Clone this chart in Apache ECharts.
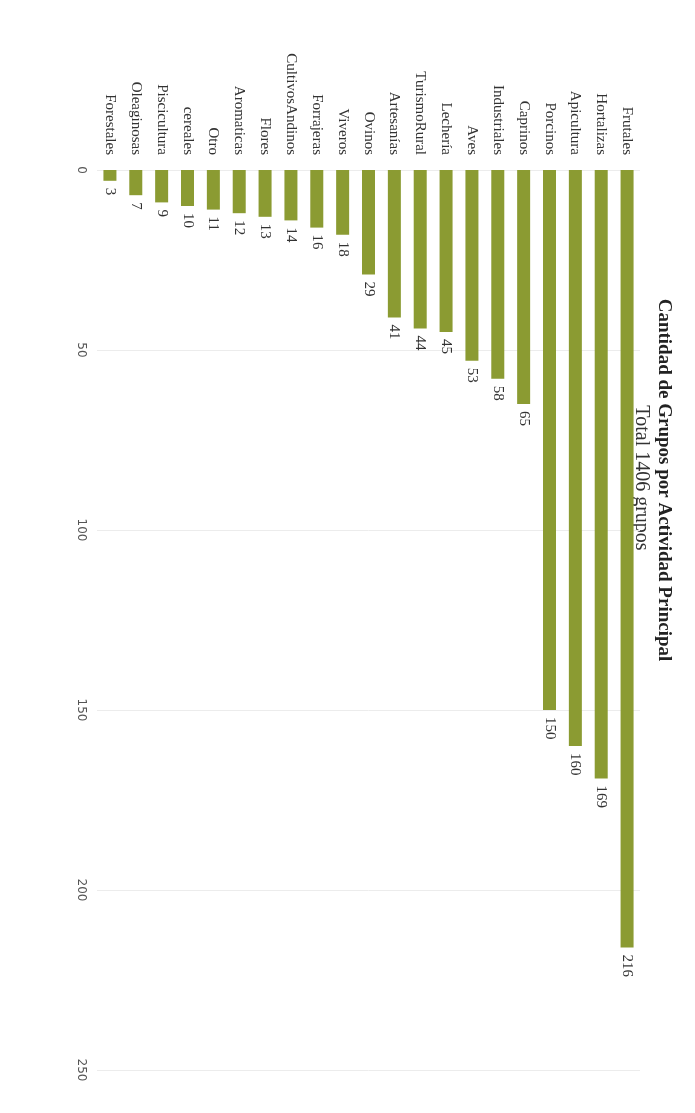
<!DOCTYPE html>
<html>
<head>
<meta charset="utf-8">
<script src="https://cdn.jsdelivr.net/npm/echarts@6/dist/echarts.min.js"></script>
<style>
html,body{margin:0;padding:0;background:#fff;}
#chart{width:695px;height:1113px;}
</style>
</head>
<body>
<div id="chart"></div>
<script>
// Categories from left (bottom of original chart) to right (top)
const categories = ["Forestales","Oleaginosas","Piscicultura","cereales","Otro","Aromaticas","Flores","CultivosAndinos","Forrajeras","Viveros","Ovinos","Artesanías","TurismoRural","Lechería","Aves","Industriales","Caprinos","Porcinos","Apicultura","Hortalizas","Frutales"];
const values = [3,7,9,10,11,12,13,14,16,18,29,41,44,45,53,58,65,150,160,169,216];
const valueTicks = [0,50,100,150,200,250];
const titleText = "Cantidad de Grupos por Actividad Principal";
const subtitleText = "Total 1406 grupos";

const chart = echarts.init(document.getElementById('chart'));
chart.setOption({
  animation: false,
  backgroundColor: '#ffffff',
  grid: {left: 97, right: 55, top: 170, bottom: 43, containLabel: false},
  graphic: [
    {type:'text', x: 664, y: 480, rotation: -Math.PI/2,
     style:{text: titleText, fontFamily:'Liberation Serif', fontSize: 19, fontWeight:'bold', fill:'#222', align:'center', verticalAlign:'middle'}},
    {type:'text', x: 641, y: 478, rotation: -Math.PI/2,
     style:{text: subtitleText, fontFamily:'Liberation Serif', fontSize: 20, fill:'#333', align:'center', verticalAlign:'middle'}}
  ],
  xAxis: {
    type: 'category', position: 'top', data: categories,
    axisLine: {show:false}, axisTick: {show:false},
    axisLabel: {rotate: -90, interval: 0, margin: 15, fontFamily:'Liberation Serif', fontSize: 15, color:'#333'}
  },
  yAxis: {
    type: 'value', inverse: true, min: valueTicks[0], max: valueTicks[valueTicks.length-1], interval: 50,
    axisLine: {show:false}, axisTick: {show:false},
    splitLine: {show:true, lineStyle:{color:'#ececec', width:1}},
    axisLabel: {rotate: -90, margin: 10, fontFamily:'DejaVu Sans', fontSize: 12, color:'#555'}
  },
  series: [{
    type: 'bar', data: values, barWidth: 13,
    itemStyle: {color: '#8b9b32'},
    label: {show: true, position: 'bottom', rotate: -90, align: 'left', verticalAlign: 'middle', distance: 7,
            fontFamily:'Liberation Serif', fontSize: 15, color:'#333'}
  }]
});
</script>
</body>
</html>
